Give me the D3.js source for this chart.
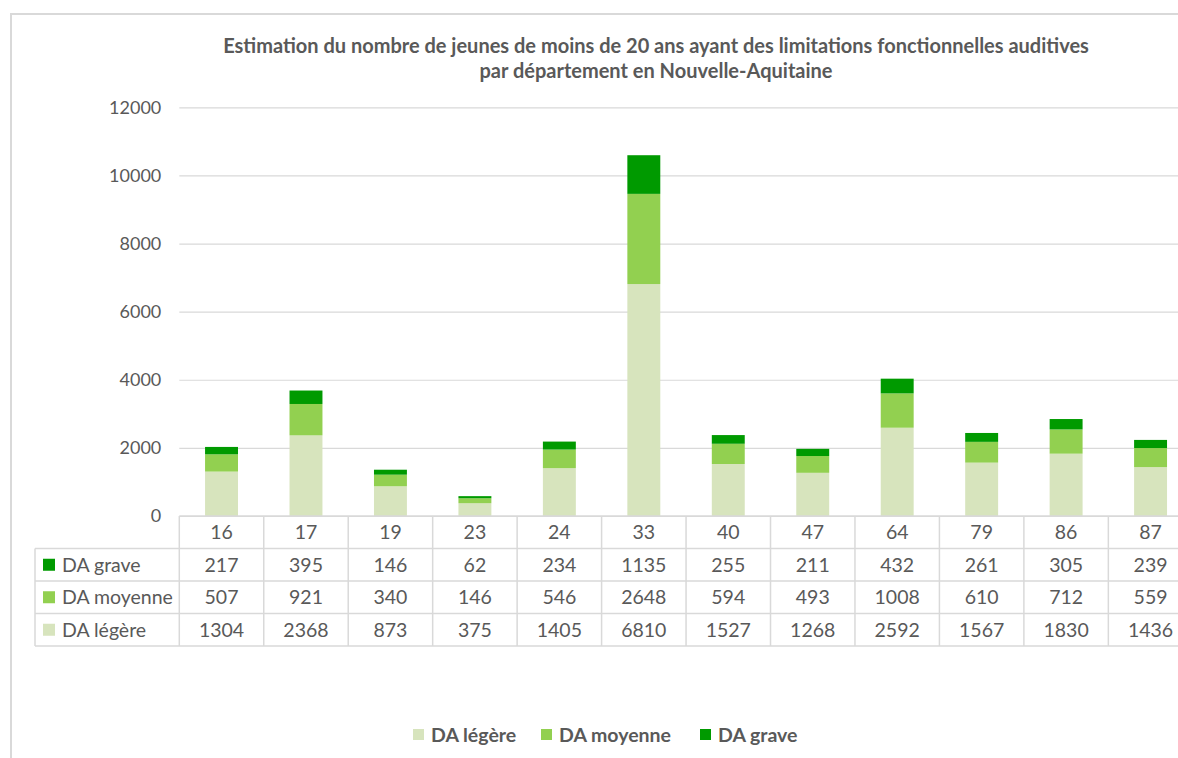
<!DOCTYPE html>
<html>
<head>
<meta charset="utf-8">
<script src="https://cdn.jsdelivr.net/npm/d3@7"></script>
<style>
  body { margin: 0; background: #fff; }
  svg { display: block; font-family: Lato, "Open Sans", sans-serif; }
</style>
</head>
<body>
<div id="chart"></div>
<script>
// data ------------------------------------------------------------
const departements = ["16", "17", "19", "23", "24", "33", "40", "47", "64", "79", "86", "87"]
const daLegere  = [1304, 2368, 873, 375, 1405, 6810, 1527, 1268, 2592, 1567, 1830, 1436]
const daMoyenne = [507, 921, 340, 146, 546, 2648, 594, 493, 1008, 610, 712, 559]
const daGrave   = [217, 395, 146, 62, 234, 1135, 255, 211, 432, 261, 305, 239]
const seriesNames = ["DA légère", "DA moyenne", "DA grave"]
const yTicks = [0, 2000, 4000, 6000, 8000, 10000, 12000]

// layout ----------------------------------------------------------
const width = 1178,
      height = 758,
      plotLeft = 179.3,
      plotRight = 1192.8,
      plotTop = 107.3,
      plotBottom = 516,
      rowH = 32.5,
      tableLeft = 35,
      tableFont = 19.5,
      textColor = "#595959",
      lineColor = "#d9d9d9"

const colors = { "DA légère": "#d7e4bd", "DA moyenne": "#92d050", "DA grave": "#009a00" }

const svg = d3.select("#chart").append("svg")
  .attr("width", width)
  .attr("height", height)

// chart border (cut off on right and bottom)
svg.append("path")
  .attr("d", `M11,${height} V14 H${width}`)
  .attr("fill", "none")
  .attr("stroke", lineColor)
  .attr("stroke-width", 2)

// title
const title = svg.append("text")
  .attr("x", 656).attr("y", 53)
  .attr("text-anchor", "middle")
  .attr("fill", textColor)
  .attr("font-weight", "bold")
  .attr("font-size", 20)
title.append("tspan").attr("x", 656).text("Estimation du nombre de jeunes de moins de 20 ans ayant des limitations fonctionnelles auditives")
title.append("tspan").attr("x", 656).attr("dy", 25).text("par département en Nouvelle-Aquitaine")

// scales
const x = d3.scaleBand()
  .domain(departements)
  .range([plotLeft, plotRight])
  .paddingInner(0.61)
  .paddingOuter(0.305)

const y = d3.scaleLinear()
  .domain([0, 12000])
  .range([plotBottom, plotTop])

// gridlines + y labels
const yAxis = d3.axisLeft(y)
  .tickValues(yTicks)
  .tickFormat(d3.format("d"))
  .tickSize(-(width - plotLeft))
  .tickPadding(18)
const gy = svg.append("g").attr("transform", `translate(${plotLeft},0)`).call(yAxis)
gy.select(".domain").remove()
gy.selectAll(".tick line").attr("stroke", lineColor).attr("stroke-width", 1.2)
gy.selectAll(".tick text")
  .attr("fill", textColor)
  .attr("font-size", 18)
  .attr("font-family", "Lato, sans-serif")

// stacked bars
const rows = departements.map((d, i) => ({
  dep: d, "DA légère": daLegere[i], "DA moyenne": daMoyenne[i], "DA grave": daGrave[i]
}))
const stacked = d3.stack().keys(seriesNames)(rows)

svg.append("g")
  .selectAll("g")
  .data(stacked)
  .join("g")
  .attr("fill", s => colors[s.key])
  .selectAll("rect")
  .data(s => s)
  .join("rect")
  .attr("x", d => x(d.data.dep))
  .attr("width", x.bandwidth())
  .attr("y", d => y(d[1]))
  .attr("height", d => y(d[0]) - y(d[1]))

// data table ------------------------------------------------------
const step = x.step()
const table = svg.append("g")
const tableRows = [
  { name: "DA grave", values: daGrave },
  { name: "DA moyenne", values: daMoyenne },
  { name: "DA légère", values: daLegere }
]
const tableBottom = plotBottom + rowH * 4

// horizontal lines
table.append("line")
  .attr("x1", plotLeft).attr("x2", width)
  .attr("y1", plotBottom).attr("y2", plotBottom)
  .attr("stroke", lineColor).attr("stroke-width", 1.5)
d3.range(1, 5).forEach(k => {
  table.append("line")
    .attr("x1", tableLeft).attr("x2", width)
    .attr("y1", plotBottom + rowH * k).attr("y2", plotBottom + rowH * k)
    .attr("stroke", lineColor).attr("stroke-width", 1.5)
})
// vertical lines
table.append("line")
  .attr("x1", tableLeft).attr("x2", tableLeft)
  .attr("y1", plotBottom + rowH).attr("y2", tableBottom)
  .attr("stroke", lineColor).attr("stroke-width", 1.5)
d3.range(0, departements.length + 1).forEach(k => {
  const xx = plotLeft + step * k
  table.append("line")
    .attr("x1", xx).attr("x2", xx)
    .attr("y1", plotBottom).attr("y2", tableBottom)
    .attr("stroke", lineColor).attr("stroke-width", 1.5)
})

// header (categories)
table.selectAll("text.cat")
  .data(departements)
  .join("text")
  .attr("class", "cat")
  .attr("x", d => x(d) + x.bandwidth() / 2)
  .attr("y", plotBottom + rowH / 2 + 7)
  .attr("text-anchor", "middle")
  .attr("fill", textColor)
  .attr("font-size", tableFont)
  .text(d => d)

// series rows
tableRows.forEach((r, ri) => {
  const cy = plotBottom + rowH * (ri + 1) + rowH / 2
  table.append("rect")
    .attr("x", 43).attr("y", cy - 6)
    .attr("width", 12).attr("height", 12)
    .attr("fill", colors[r.name])
  table.append("text")
    .attr("x", 62).attr("y", cy + 7)
    .attr("fill", textColor)
    .attr("font-size", tableFont)
    .text(r.name)
  table.selectAll(null)
    .data(r.values)
    .join("text")
    .attr("x", (v, i) => x(departements[i]) + x.bandwidth() / 2)
    .attr("y", cy + 7)
    .attr("text-anchor", "middle")
    .attr("fill", textColor)
    .attr("font-size", tableFont)
    .text(v => v)
})

// legend ----------------------------------------------------------
const legendX = [413, 541, 700]
const legend = svg.append("g")
seriesNames.forEach((name, i) => {
  legend.append("rect")
    .attr("x", legendX[i]).attr("y", 729)
    .attr("width", 11).attr("height", 11)
    .attr("fill", colors[name])
  legend.append("text")
    .attr("x", legendX[i] + 18).attr("y", 742)
    .attr("fill", textColor)
    .attr("font-weight", "bold")
    .attr("font-size", 19.5)
    .text(name)
})
</script>
</body>
</html>
